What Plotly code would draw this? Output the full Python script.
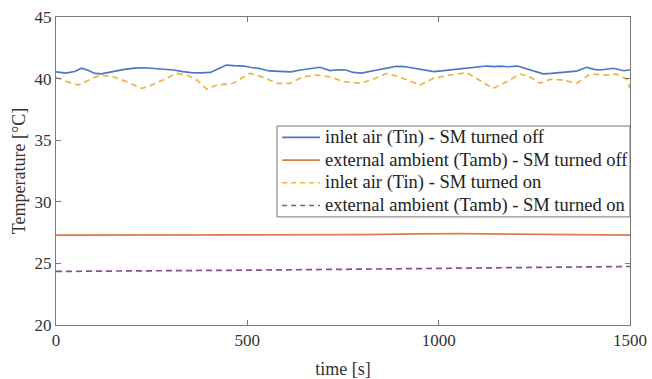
import plotly.graph_objects as go

# Inlet air temperature, SM turned off
t_in_off = [0, 26, 51, 66, 82, 102, 118, 138, 159, 179, 205, 230, 256, 281, 307, 332, 353, 378, 404,
            424, 445, 465, 491, 511, 532, 557, 583, 614, 639, 665, 690, 716, 736, 757, 777, 798, 818,
            839, 864, 890, 910, 936, 961, 987, 1007, 1028, 1053, 1074, 1099, 1125, 1145, 1161, 1181,
            1207, 1227, 1248, 1273, 1294, 1319, 1340, 1360, 1386, 1406, 1422, 1442, 1457, 1483, 1500]
T_in_off = [40.55, 40.45, 40.6, 40.85, 40.7, 40.42, 40.38, 40.5, 40.65, 40.75, 40.85, 40.88, 40.82,
            40.78, 40.7, 40.56, 40.48, 40.46, 40.5, 40.8, 41.1, 41.05, 41.02, 40.9, 40.82, 40.62,
            40.58, 40.55, 40.7, 40.8, 40.92, 40.65, 40.72, 40.7, 40.5, 40.45, 40.55, 40.7, 40.85,
            41.0, 40.98, 40.85, 40.7, 40.56, 40.62, 40.7, 40.78, 40.85, 40.95, 41.02, 40.98, 41.02,
            40.96, 41.02, 40.82, 40.6, 40.38, 40.42, 40.48, 40.52, 40.6, 40.92, 40.75, 40.7, 40.8,
            40.84, 40.64, 40.72]

# External ambient temperature, SM turned off
t_amb_off = [0, 300, 600, 800, 950, 1050, 1200, 1350, 1500]
T_amb_off = [27.3, 27.3, 27.3, 27.33, 27.4, 27.42, 27.38, 27.32, 27.3]

# Inlet air temperature, SM turned on
t_in_on = [0, 29, 58, 89, 115, 149, 185, 224, 245, 280, 316, 342, 368, 394, 420, 463, 507, 542, 577,
           612, 646, 682, 716, 751, 795, 828, 865, 907, 951, 986, 1030, 1074, 1107, 1142, 1178,
           1213, 1238, 1265, 1291, 1325, 1361, 1395, 1440, 1465, 1492, 1500]
T_in_on = [40.1, 39.75, 39.48, 39.89, 40.29, 40.15, 39.75, 39.2, 39.4, 39.89, 40.43, 40.29, 39.89,
           39.13, 39.48, 39.62, 40.43, 40.1, 39.62, 39.62, 40.15, 40.29, 40.15, 39.75, 39.62, 39.94,
           40.43, 40.02, 39.48, 40.02, 40.29, 40.48, 39.89, 39.2, 39.75, 40.37, 40.15, 39.62, 39.94,
           39.89, 39.62, 40.37, 40.29, 40.37, 39.94, 39.2]

# External ambient temperature, SM turned on
t_amb_on = [0, 250, 500, 750, 1000, 1250, 1500]
T_amb_on = [24.35, 24.38, 24.45, 24.52, 24.6, 24.67, 24.75]

series_names = ["inlet air (Tin) - SM turned off",
                "external ambient (Tamb) - SM turned off",
                "inlet air (Tin) - SM turned on",
                "external ambient (Tamb) - SM turned on"]

x_ticks = [0, 500, 1000, 1500]
y_ticks = [20, 25, 30, 35, 40, 45]

font_family = "Liberation Serif, Times New Roman, serif"
text_color = "#333333"
axis_color = "#7a7a7a"

series = [
    dict(x=t_in_off, y=T_in_off, color="#4a76c8", dash="solid"),
    dict(x=t_amb_off, y=T_amb_off, color="#e07a4a", dash="solid"),
    dict(x=t_in_on, y=T_in_on, color="#ebb540", dash="6px,4px"),
    dict(x=t_amb_on, y=T_amb_on, color="#8a4a9a", dash="6px,4px"),
]

fig = go.Figure()
for name, s in zip(series_names, series):
    fig.add_trace(go.Scatter(x=s["x"], y=s["y"], mode="lines", name=name,
                             line=dict(color=s["color"], width=1.7, dash=s["dash"])))

# Compact boxed legend in the plot area (paper coordinates of the plot domain)
box_left, box_right, box_top, box_bottom = 0.385, 1.0, 0.646, 0.351
row_h = (box_top - box_bottom) / len(series_names)
sym_x0, sym_x1, text_x = 0.394, 0.460, 0.4655

shapes = [dict(type="rect", xref="paper", yref="paper", layer="above",
               x0=box_left, x1=box_right, y0=box_bottom, y1=box_top,
               fillcolor="white", line=dict(color="#777777", width=1))]
annotations = []
for i, (name, s) in enumerate(zip(series_names, series)):
    yc = box_top - (i + 0.5) * row_h
    shapes.append(dict(type="line", xref="paper", yref="paper", layer="above",
                       x0=sym_x0, x1=sym_x1, y0=yc, y1=yc,
                       line=dict(color=s["color"], width=1.6,
                                 dash="5px,4px" if s["dash"] != "solid" else "solid")))
    annotations.append(dict(text=name, xref="paper", yref="paper", x=text_x, y=yc,
                            xanchor="left", yanchor="middle", showarrow=False,
                            font=dict(size=18.5, color="#222222", family=font_family)))

axis_common = dict(showgrid=False, zeroline=False, showline=True, mirror="ticks",
                   linecolor=axis_color, linewidth=1, ticks="inside", ticklen=5,
                   tickcolor=axis_color, tickfont=dict(size=17, color=text_color),
                   automargin=False)

fig.update_xaxes(range=[0, 1500], tickvals=x_ticks,
                 title=dict(text="time [s]", font=dict(size=18, color=text_color), standoff=13),
                 **axis_common)
fig.update_yaxes(range=[20, 45], tickvals=y_ticks,
                 title=dict(text="Temperature [°C]", font=dict(size=18, color=text_color), standoff=4),
                 **axis_common)

fig.update_layout(
    width=652, height=379,
    margin=dict(l=56, r=22, t=17, b=54),
    paper_bgcolor="white", plot_bgcolor="white",
    font=dict(family=font_family, color=text_color),
    showlegend=False,
    shapes=shapes,
    annotations=annotations,
)

fig.write_html("out.html")
